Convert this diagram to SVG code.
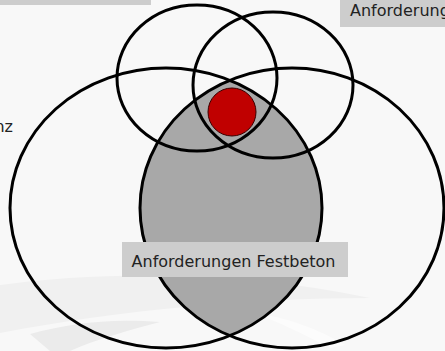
<svg xmlns="http://www.w3.org/2000/svg" width="445" height="351" viewBox="0 0 445 351">
  <style>
    .ring { fill: none; stroke: #000; stroke-width: 3; }
    .box { fill: #cdcdcd; }
    .lbl { font-family: "DejaVu Sans", Verdana, sans-serif; font-size: 16px; fill: #222; }
  </style>
  <defs>
    <clipPath id="clipLeft">
      <ellipse cx="166" cy="208" rx="156" ry="140"/>
    </clipPath>
  </defs>

  <g id="background">
    <rect x="0" y="0" width="445" height="351" fill="#f8f8f8"/>
    <path d="M0,285 C100,271 240,270 370,298 C250,298 120,310 0,333 Z" fill="#f0f0f0"/>
    <path d="M30,334 C70,323 110,318 160,322 C130,330 100,338 70,351 L50,351 Z" fill="#ebebeb"/>
    <path d="M250,312 C290,318 320,330 345,345 L330,348 C305,335 280,322 250,312 Z" fill="#fcfcfc"/>
  </g>

  <g id="lens-fill">
    <ellipse cx="292" cy="208" rx="152" ry="140" fill="#a8a8a8" clip-path="url(#clipLeft)"/>
  </g>

  <g id="node-ellipse-left">
    <ellipse class="ring" cx="166" cy="208" rx="156" ry="140"/>
  </g>
  <g id="node-ellipse-right">
    <ellipse class="ring" cx="292" cy="208" rx="152" ry="140"/>
  </g>
  <g id="node-circle-top-left">
    <ellipse class="ring" cx="197" cy="78" rx="80" ry="73"/>
  </g>
  <g id="node-circle-top-right">
    <ellipse class="ring" cx="273" cy="85" rx="80" ry="73"/>
  </g>
  <g id="node-red-dot">
    <circle cx="232" cy="112" r="24" fill="#c00000" stroke="#3a0000" stroke-width="1"/>
  </g>

  <g id="connectors"/>

  <g id="label-top-left">
    <rect class="box" x="0" y="0" width="151" height="5"/>
  </g>
  <g id="label-top-right">
    <rect class="box" x="340" y="0" width="105" height="27"/>
    <text class="lbl" x="350" y="16">Anforderung</text>
  </g>
  <g id="label-left">
    <text class="lbl" x="13" y="132" text-anchor="end">nz</text>
  </g>
  <g id="label-festbeton">
    <rect class="box" x="122" y="242" width="226" height="35"/>
    <text class="lbl" x="233.5" y="267" text-anchor="middle">Anforderungen Festbeton</text>
  </g>
</svg>
